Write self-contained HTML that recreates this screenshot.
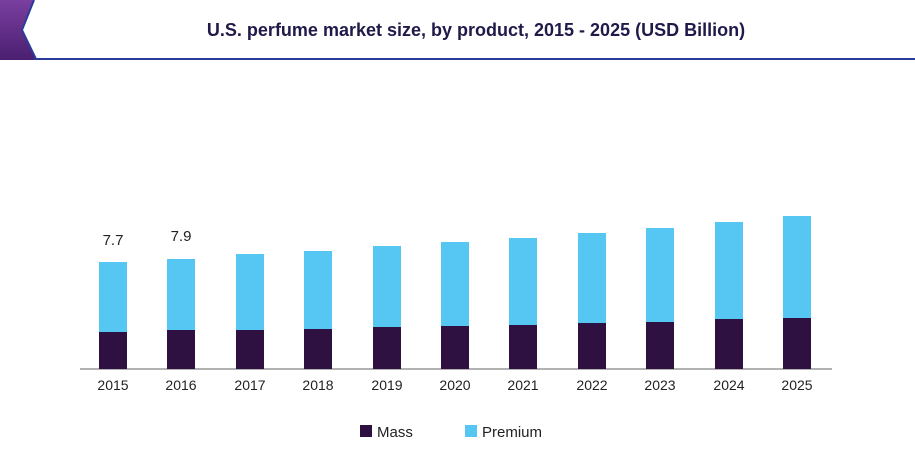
<!DOCTYPE html>
<html><head><meta charset="utf-8"><style>
body{margin:0;background:#fff;}
svg{display:block;font-family:"Liberation Sans",Arial,sans-serif;}
</style></head><body>
<svg width="915" height="450" viewBox="0 0 915 450">
<defs><linearGradient id="g" x1="0" y1="0" x2="0" y2="1"><stop offset="0" stop-color="#7a3fa0"/><stop offset="1" stop-color="#4a1f70"/></linearGradient></defs>
<polygon points="0,0 34,0 22,30 36,60 0,60" fill="url(#g)"/>
<polyline points="34,0 22,30 36,59" fill="none" stroke="#2a3b9a" stroke-width="2"/>
<line x1="34" y1="59" x2="915" y2="59" stroke="#2a3b9a" stroke-width="2"/>
<text x="476" y="36" text-anchor="middle" font-size="18" font-weight="bold" fill="#1f1a4a">U.S. perfume market size, by product, 2015 - 2025 (USD Billion)</text>
<g id="bars"></g>
<line x1="80" y1="369" x2="832" y2="369" stroke="#999" stroke-width="1.5"/>
<text x="113" y="245" text-anchor="middle" font-size="15" fill="#222">7.7</text>
<text x="181" y="241" text-anchor="middle" font-size="15" fill="#222">7.9</text>
<g font-size="14" fill="#222" text-anchor="middle">
<text x="113" y="390">2015</text><text x="181" y="390">2016</text><text x="250" y="390">2017</text><text x="318" y="390">2018</text><text x="387" y="390">2019</text><text x="455" y="390">2020</text><text x="523" y="390">2021</text><text x="592" y="390">2022</text><text x="660" y="390">2023</text><text x="729" y="390">2024</text><text x="797" y="390">2025</text>
</g>
<g fill="#56c7f3">
<rect x="99" y="262" width="28" height="107"/><rect x="167" y="259" width="28" height="110"/><rect x="236" y="254" width="28" height="115"/><rect x="304" y="251" width="28" height="118"/><rect x="373" y="246" width="28" height="123"/><rect x="441" y="242" width="28" height="127"/><rect x="509" y="238" width="28" height="131"/><rect x="578" y="233" width="28" height="136"/><rect x="646" y="228" width="28" height="141"/><rect x="715" y="222" width="28" height="147"/><rect x="783" y="216" width="28" height="153"/>
</g>
<g fill="#2e1140">
<rect x="99" y="332" width="28" height="37"/><rect x="167" y="330" width="28" height="39"/><rect x="236" y="330" width="28" height="39"/><rect x="304" y="329" width="28" height="40"/><rect x="373" y="327" width="28" height="42"/><rect x="441" y="326" width="28" height="43"/><rect x="509" y="325" width="28" height="44"/><rect x="578" y="323" width="28" height="46"/><rect x="646" y="322" width="28" height="47"/><rect x="715" y="319" width="28" height="50"/><rect x="783" y="318" width="28" height="51"/>
</g>
<rect x="360" y="425" width="12" height="12" fill="#2e1140"/>
<text x="377" y="437" font-size="15" fill="#222">Mass</text>
<rect x="465" y="425" width="12" height="12" fill="#56c7f3"/>
<text x="482" y="437" font-size="15" fill="#222">Premium</text>
</svg>
</body></html>
